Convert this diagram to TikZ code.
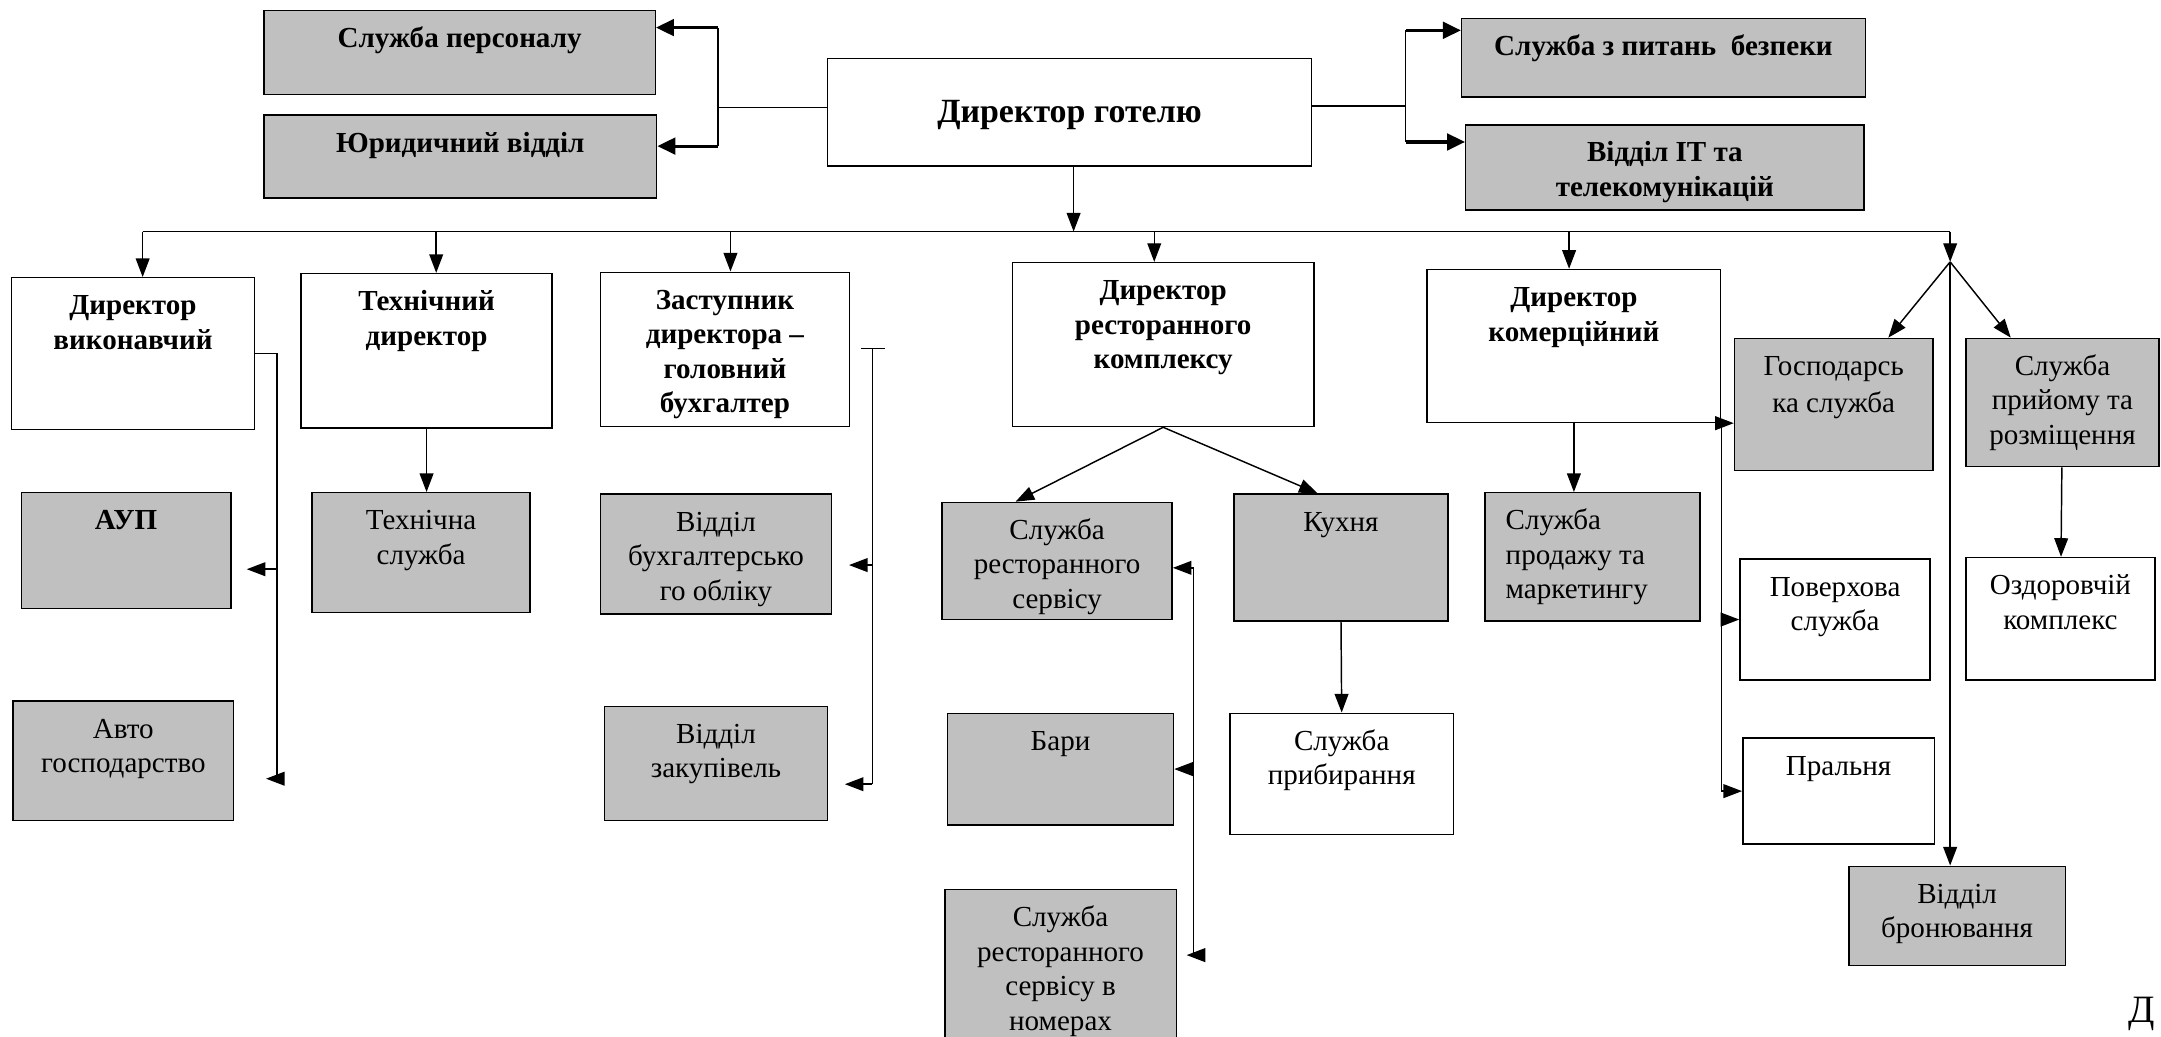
\documentclass[tikz,border=0pt]{standalone}
\usepackage{fontspec}
\setmainfont{Liberation Serif}
\usetikzlibrary{arrows.meta}

\definecolor{boxgray}{RGB}{192,192,192}
% text block hung from the top of a box
\newcommand{\cell}[3]{\parbox[c][#2][t]{#1}{\centering\rule{0pt}{0.54cm}#3}}

\tikzset{
    unit/.style={draw, line width=0.6pt, inner sep=0pt, anchor=north west, font=\fontsize{12}{14.2}\selectfont},
    graybox/.style={unit, fill=boxgray},
    plainbox/.style={unit, fill=white},
    bold/.style={font=\fontsize{12}{14.2}\selectfont\bfseries},
    arr/.style={line width=0.6pt, -{Triangle[length=0.27cm, width=0.2cm]}},
    thickarr/.style={line width=1.3pt, -{Triangle[length=0.26cm, width=0.24cm]}},
}

\begin{document}
\begin{tikzpicture}[x=0.02cm, y=-0.02cm, line width=0.6pt]
    \useasboundingbox (0,0) rectangle (1568,752);

    % top level
    \node[plainbox, font=\fontsize{14}{16}\selectfont\bfseries] (dir) at (600,42) {\parbox[c][1.56cm][t]{7.02cm}{\centering\rule{0pt}{0.93cm}Директор готелю}};
    \node[graybox, bold] (pers) at (191,7) {\cell{5.68cm}{1.22cm}{Служба персоналу}};
    \node[graybox, bold] (yur) at (191,83) {\cell{5.70cm}{1.20cm}{Юридичний відділ}};
    \node[graybox, bold] (bezp) at (1060,13) {\cell{5.86cm}{1.14cm}{Служба з питань~ безпеки}};
    \node[graybox, bold] (it) at (1063,90) {\cell{5.78cm}{1.24cm}{Відділ IT та\\телекомунікацій}};

    % directors
    \node[plainbox, bold] (exec) at (8,201) {\cell{3.52cm}{2.20cm}{Директор\\виконавчий}};
    \node[plainbox, bold] (tech) at (218,198) {\cell{3.64cm}{2.24cm}{Технічний\\директор}};
    \node[plainbox, bold] (zast) at (435,197) {\cell{3.62cm}{2.24cm}{Заступник\\директора –\\головний\\бухгалтер}};
    \node[plainbox, bold] (rest) at (734,190) {\cell{4.38cm}{2.38cm}{Директор\\ресторанного\\комплексу}};
    \node[plainbox, bold] (kom) at (1035,195) {\cell{4.26cm}{2.22cm}{Директор\\комерційний}};

    % services
    \node[graybox, bold] (aup) at (15,357) {\cell{3.04cm}{1.68cm}{АУП}};
    \node[graybox] (avto) at (9,508) {\cell{3.20cm}{1.74cm}{Авто\\господарство}};
    \node[graybox] (tserv) at (226,357) {\cell{3.16cm}{1.74cm}{Технічна\\служба}};
    \node[graybox] (buh) at (435,358) {\cell{3.36cm}{1.74cm}{Відділ\\бухгалтерсько\\го обліку}};
    \node[graybox] (zak) at (438,512) {\cell{3.24cm}{1.66cm}{Відділ\\закупівель}};
    \node[graybox] (rserv) at (683,364) {\cell{3.34cm}{1.70cm}{Служба\\ресторанного\\сервісу}};
    \node[graybox] (bary) at (687,517) {\cell{3.28cm}{1.62cm}{Бари}};
    \node[graybox] (nom) at (685,645) {\cell{3.36cm}{2.40cm}{Служба\\ресторанного\\сервісу в\\номерах}};
    \node[graybox] (kuh) at (895,358) {\cell{3.10cm}{1.84cm}{Кухня}};
    \node[plainbox] (prib) at (892,517) {\cell{3.24cm}{1.76cm}{Служба\\прибирання}};
    \node[graybox] (prod) at (1077,357) {\parbox[c][1.86cm][t]{3.12cm}{\raggedright\leftskip=0.3cm\rule{0pt}{0.54cm}Служба\\продажу та\\маркетингу}};
    \node[graybox] (gosp) at (1258,245) {\cell{2.88cm}{1.92cm}{Господарсь\\[1pt]ка служба}};
    \node[graybox] (pryi) at (1426,245) {\cell{2.80cm}{1.86cm}{Служба\\прийому та\\розміщення}};
    \node[plainbox] (pov) at (1262,405) {\cell{2.76cm}{1.76cm}{Поверхова\\служба}};
    \node[plainbox] (ozd) at (1426,404) {\cell{2.74cm}{1.78cm}{Оздоровчій\\комплекс}};
    \node[plainbox] (pral) at (1264,535) {\cell{2.78cm}{1.54cm}{Пральня}};
    \node[graybox] (bron) at (1341,628) {\cell{3.14cm}{1.44cm}{Відділ\\бронювання}};
    \node[font=\fontsize{16}{16}\selectfont, inner sep=1pt, anchor=south east] (pg) at (1566,750) {Д};

    % links of the hotel director
    \coordinate (lj) at (521,78);
    \coordinate (lt) at (521,20);
    \coordinate (lb) at (521,106);
    \draw (dir.west |- lj) -- (lj);
    \draw (lt) -- (lb);
    \draw[thickarr] (lt) -- (lt -| pers.east);
    \draw[thickarr] (lb) -- (lb -| yur.east);
    \coordinate (rj) at (1020,77);
    \coordinate (rt) at (1020,22);
    \coordinate (rb) at (1020,103);
    \draw (dir.east |- rj) -- (rj);
    \draw (rt) -- (rb);
    \draw[thickarr] (rt) -- (rt -| bezp.west);
    \draw[thickarr] (rb) -- (rb -| it.west);

    % bus
    \coordinate (busr) at (1415,168);
    \coordinate (sp) at (1415,190);
    \draw ([xshift=0.14cm]exec.north |- busr) -- (busr);
    \draw[arr] ([xshift=0.06cm]dir.south) -- ([xshift=0.06cm]dir.south |- busr);
    \foreach \n/\dx in {exec/0.14, tech/0.14, zast/0.08, rest/-0.13, kom/-0.07}
        \draw[arr] ([xshift=\dx cm]\n.north |- busr) -- ([xshift=\dx cm]\n.north);
    \draw[arr] (busr) -- (sp);
    \draw[arr] (sp) -- (gosp);
    \draw[arr] (sp) -- (pryi);
    \draw[arr] (sp) -- (sp |- bron.north);
    \draw[arr] (pryi) -- (ozd);

    % executive director
    \coordinate (ea) at (201,413);
    \coordinate (eb) at (201,565);
    \draw (exec.east) -- (exec.east -| eb) -- (eb);
    \draw[arr, shorten >=0.22cm] (ea) -- (ea -| aup.east);
    \draw[arr, shorten >=0.46cm] (eb) -- (eb -| avto.east);

    % technical director
    \draw[arr] (tech.south) -- (tech.south |- tserv.north);

    % chief accountant
    \coordinate (zt) at (633,253);
    \coordinate (zm) at (633,410);
    \coordinate (zb) at (633,569);
    \draw ([xshift=-0.16cm]zt) -- ([xshift=0.18cm]zt);
    \draw (zt) -- (zb);
    \draw[arr, shorten >=0.24cm] (zm) -- (zm -| buh.east);
    \draw[arr, shorten >=0.24cm] (zb) -- (zb -| zak.east);

    % restaurant complex
    \draw[arr] (rest.south) -- (rserv.125);
    \draw[arr] (rest.south) -- (kuh.110);
    \draw[arr] (kuh.south) -- (prib.north);
    \coordinate (rv) at (866,412);
    \coordinate (rw) at (866,693);
    \draw (rv) -- (rw);
    \draw[arr] (rv) -- (rv -| rserv.east);
    \draw[arr] (rv |- bary.east) -- (bary.east);
    \draw[arr, shorten >=0.14cm] (rw) -- (rw -| nom.east);

    % commercial director
    \draw[arr] (kom.south) -- (kom.south |- prod.north);
    \draw (kom.south east) -- (kom.south east |- pral.west);
    \draw[arr] (kom.south east) -- (kom.south east -| gosp.west);
    \draw[arr] (kom.south east |- pov.west) -- (pov.west);
    \draw[arr] (kom.south east |- pral.west) -- (pral.west);
\end{tikzpicture}
\end{document}
